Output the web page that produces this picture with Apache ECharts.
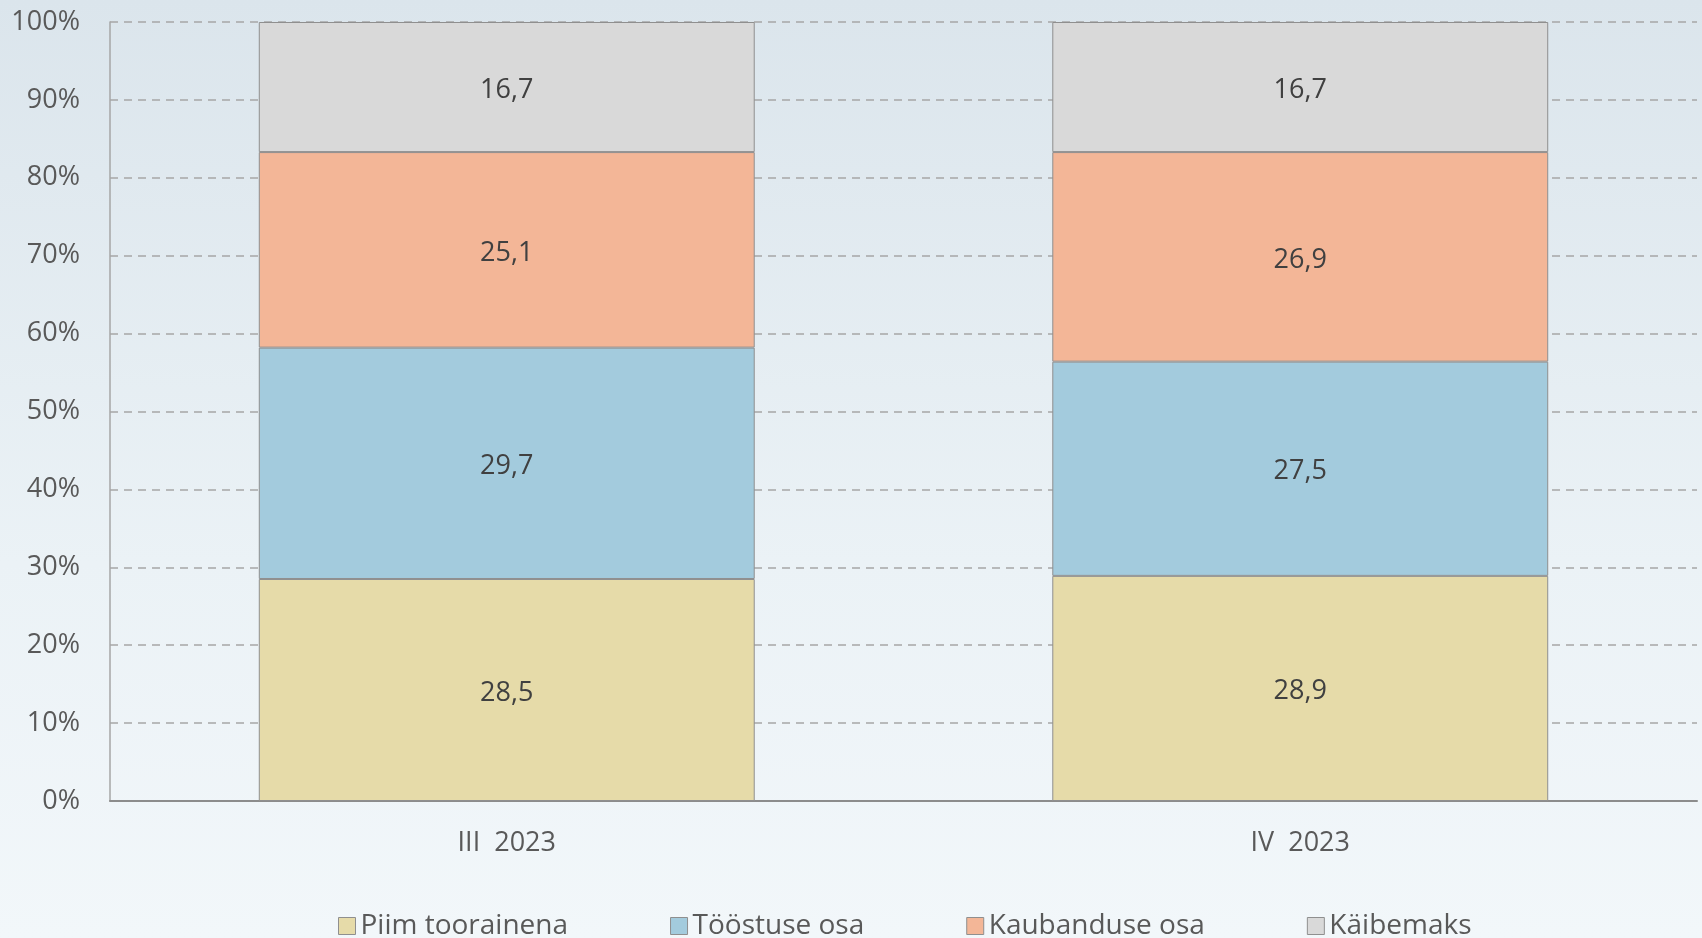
<!DOCTYPE html>
<html>
<head>
<meta charset="utf-8">
<script src="https://cdn.jsdelivr.net/npm/echarts@6/dist/echarts.min.js"></script>
<style>
  html, body { margin: 0; padding: 0; }
  #main { width: 1702px; height: 938px; }
</style>
</head>
<body>
<div id="main"></div>
<script>
var categories = ["III  2023", "IV  2023"];
var seriesNames = ["Piim toorainena", "Tööstuse osa", "Kaubanduse osa", "Käibemaks"];
var piim = [28.5, 28.9];
var toostus = [29.7, 27.5];
var kaubandus = [25.1, 26.9];
var kaibemaks = [16.7, 16.7];
var colors = ["#e6dba9", "#a3cbdd", "#f3b697", "#d9d9d9"];

var chartDom = document.getElementById("main");
var myChart = echarts.init(chartDom, null, { renderer: "canvas" });

function makeSeries(name, data) {
  return {
    name: name,
    type: "bar",
    stack: "total",
    barCategoryGap: "37.5%",
    data: data,
    itemStyle: { borderColor: "#8f8f8f", borderWidth: 1 },
    label: {
      show: true,
      position: "inside",
      offset: [0, 3],
      color: "#404040",
      fontSize: 27,
      fontFamily: "'Open Sans', sans-serif",
      formatter: function (p) { return p.value.toFixed(1).replace(".", ","); }
    }
  };
}

var option = {
  backgroundColor: {
    type: "linear", x: 0, y: 0, x2: 0, y2: 1,
    colorStops: [
      { offset: 0, color: "#dbe5ec" },
      { offset: 0.6, color: "#ebf2f6" },
      { offset: 1, color: "#f2f7fa" }
    ]
  },
  color: colors,
  animation: false,
  grid: { left: 110, right: 5, top: 22, bottom: 137 },
  legend: {
    bottom: -7,
    left: 333,
    itemGap: 102,
    itemWidth: 17,
    itemHeight: 17,
    icon: "rect",
    itemStyle: { borderColor: "#8f8f8f", borderWidth: 1 },
    textStyle: {
      fontSize: 28,
      color: "#595959",
      fontFamily: "'Open Sans', sans-serif"
    },
    data: seriesNames
  },
  xAxis: {
    type: "category",
    data: categories,
    axisLine: { lineStyle: { color: "#8c8c8c", width: 2 } },
    axisTick: { show: false },
    axisLabel: {
      margin: 29,
      fontSize: 27,
      color: "#595959",
      fontFamily: "'Open Sans', sans-serif"
    }
  },
  yAxis: {
    type: "value",
    min: 0,
    max: 100,
    interval: 10,
    axisLine: { show: true, lineStyle: { color: "#a6a6a6", width: 1.5 } },
    axisTick: { show: false },
    splitLine: { lineStyle: { color: "#a6a6a6", type: [8, 6], width: 1.5 } },
    axisLabel: {
      margin: 30,
      fontSize: 27,
      color: "#595959",
      fontFamily: "'Open Sans', sans-serif",
      formatter: "{value}%"
    }
  },
  series: [
    makeSeries(seriesNames[0], piim),
    makeSeries(seriesNames[1], toostus),
    makeSeries(seriesNames[2], kaubandus),
    makeSeries(seriesNames[3], kaibemaks)
  ]
};

myChart.setOption(option);
</script>
</body>
</html>
